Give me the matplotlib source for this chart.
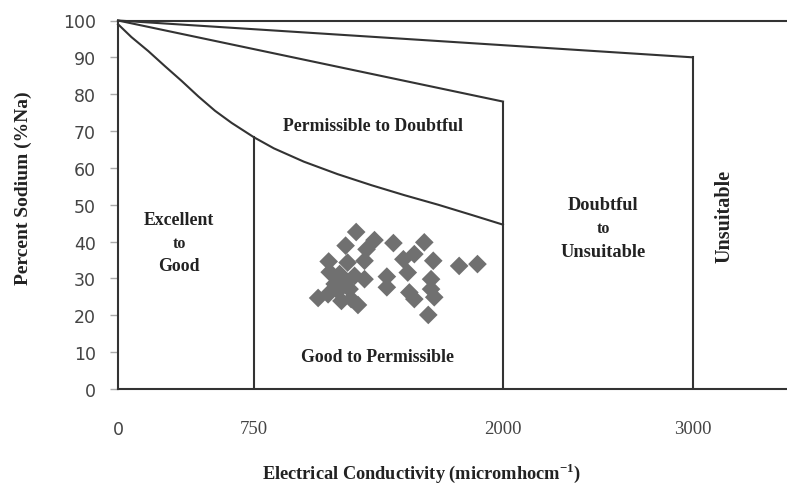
import numpy as np
import matplotlib
matplotlib.use("Agg")
import matplotlib.pyplot as plt

# ---------------- data ----------------
ec_ticks = [0, 750, 2000, 3000]
ec_tick_labels = ["0", "750", "2000", "3000"]
na_ticks = [0, 10, 20, 30, 40, 50, 60, 70, 80, 90, 100]

# boundary curve (Excellent/Good vs Permissible/Doubtful)
curve_ec = [0, 74, 167, 259, 351, 443, 535, 627, 750, 850, 1000, 1170,
            1340, 1505, 1675, 1845, 2000]
curve_na = [99.0, 95.5, 91.7, 87.6, 83.6, 79.4, 75.5, 72.2, 68.3, 65.3,
            61.7, 58.3, 55.3, 52.6, 50.0, 47.2, 44.6]

# straight boundary lines
line2_ec = [0, 2000]
line2_na = [100, 78]
line3_ec = [0, 3000]
line3_na = [100, 90]

# vertical boundaries (EC, top %Na)
vert_ec = [750, 2000, 3000]
vert_top = [68.3, 78, 90]

# samples
sample_ec = [1263, 1210, 1355, 1315, 1450, 1125, 1220, 1305, 1130, 1180,
             1205, 1255, 1305, 1417, 1417, 1072, 1122, 1172, 1189, 1272,
             1605, 1555, 1500, 1650, 1780, 1872, 1522, 1639, 1530, 1555,
             1639, 1655, 1625, 1230, 1155, 1238]
sample_na = [42.6, 38.9, 40.4, 37.9, 39.6, 34.6, 34.3, 34.8, 31.7, 31.2,
             28.9, 30.7, 29.8, 30.5, 27.6, 24.7, 25.7, 26.6, 23.9, 22.8,
             39.8, 36.6, 35.2, 34.8, 33.4, 33.9, 31.6, 29.8, 26.2, 24.4,
             27.1, 24.9, 20.1, 27.1, 28.5, 24.4]

# ---------------- figure ----------------
W, H = 787, 489
fig = plt.figure(figsize=(W / 100, H / 100), dpi=100)
ax = fig.add_axes([118 / W, 1 - 390 / H, 1 - 118 / W, (390 - 21.5) / H])

# non-linear EC axis (as in the reference)
anc_ec = np.array([0, 750, 2000, 3000, 3500])
anc_pos = np.array([0, 136, 385, 575, 670])


def fwd(x):
    return np.interp(x, anc_ec, anc_pos)


def inv(p):
    return np.interp(p, anc_pos, anc_ec)


ax.set_xscale("function", functions=(fwd, inv))
ax.set_xlim(0, 3495)
ax.set_ylim(0, 100)

lc = "#333333"
lw = 1.5
ax.plot(curve_ec, curve_na, color=lc, lw=lw, clip_on=False,
        solid_joinstyle="round")
ax.plot(line2_ec, line2_na, color=lc, lw=lw, clip_on=False)
ax.plot(line3_ec, line3_na, color=lc, lw=lw, clip_on=False)
ax.plot([0, 3495], [100, 100], color=lc, lw=lw, clip_on=False)
for x, t in zip(vert_ec, vert_top):
    ax.plot([x, x], [0, t], color=lc, lw=lw)

ax.scatter(sample_ec, sample_na, marker="D", s=9.5 ** 2, color="#707070",
           edgecolors="none", zorder=3)

for s in ["top", "right"]:
    ax.spines[s].set_visible(False)
for s in ["left", "bottom"]:
    ax.spines[s].set_color(lc)
    ax.spines[s].set_linewidth(lw)

ax.set_yticks(na_ticks)
ax.set_yticklabels([str(v) for v in na_ticks])
ax.tick_params(axis="y", length=6, color="#aaaaaa", width=1, pad=10,
               labelsize=12.5, labelcolor="#444444")
ax.set_xticks(ec_ticks)
ax.set_xticklabels(ec_tick_labels)
ax.tick_params(axis="x", length=0, pad=22, labelsize=12.5, labelcolor="#444444")
for i, lab in enumerate(ax.get_xticklabels()):
    if i == 0:
        lab.set_fontfamily("DejaVu Sans")
    else:
        lab.set_fontfamily("Liberation Serif")
        lab.set_fontsize(13.5)

serif = dict(family="Liberation Serif", fontweight="bold", color="#222222")
fs = 12.8
ax.text(1347, 71.4, "Permissible to Doubtful", ha="center", va="center",
        fontsize=fs, **serif)
ax.text(336, 46.1, "Excellent", ha="center", va="center", fontsize=fs, **serif)
ax.text(336, 39.5, "to", ha="center", va="center", fontsize=11.5, **serif)
ax.text(336, 33.4, "Good", ha="center", va="center", fontsize=fs, **serif)
ax.text(1372, 8.7, "Good to Permissible", ha="center", va="center",
        fontsize=fs, **serif)
ax.text(2526, 50.2, "Doubtful", ha="center", va="center", fontsize=13.2, **serif)
ax.text(2526, 43.8, "to", ha="center", va="center", fontsize=11.5, **serif)
ax.text(2526, 37.4, "Unsuitable", ha="center", va="center", fontsize=13.2, **serif)
ax.text(3168, 47, "Unsuitable", ha="center", va="center", rotation=90,
        fontsize=14.5, **serif)

fig.text(23 / W, 1 - 188 / H, "Percent Sodium (%Na)", rotation=90,
         ha="center", va="center", fontsize=14, **serif)
fig.text(421 / W, 1 - 473 / H, "Electrical Conductivity (micromhocm$^{\\mathregular{-1}}$)",
         ha="center", va="center", fontsize=13.2, **serif)

fig.savefig("out.png", dpi=100)
